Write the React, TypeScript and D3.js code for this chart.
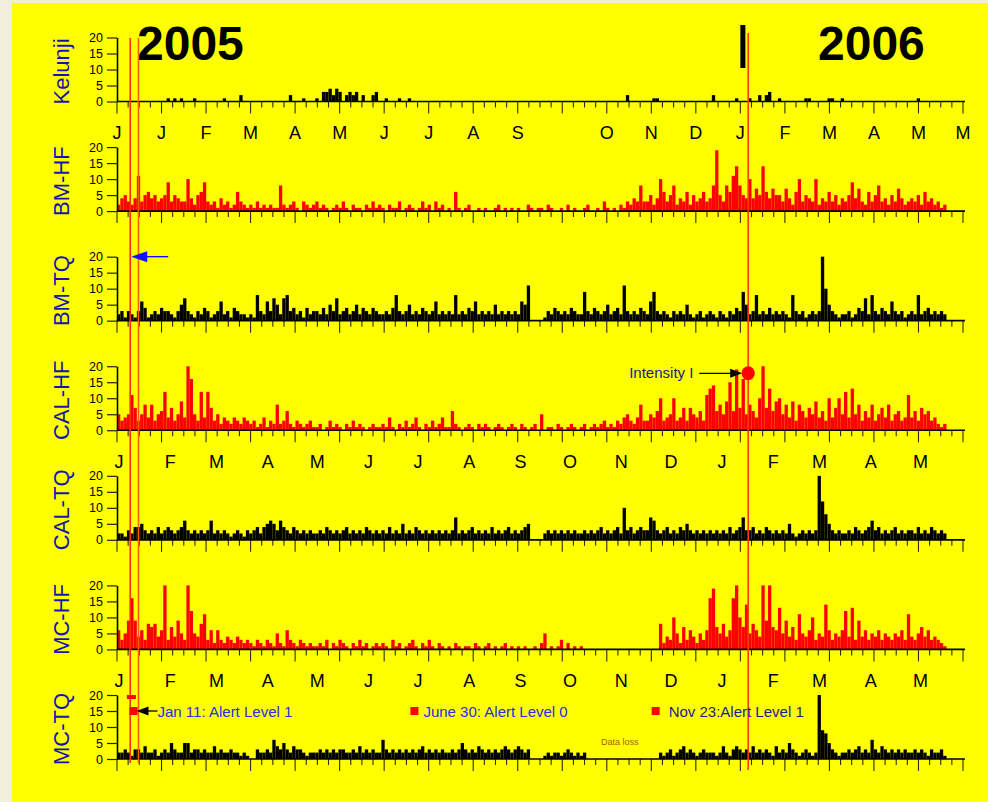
import React, { useEffect, useRef } from 'react';
import * as d3 from 'd3';

const W = 988;
const H = 802;

const stations = ['Kelunji', 'BM-HF', 'BM-TQ', 'CAL-HF', 'CAL-TQ', 'MC-HF', 'MC-TQ'];

// event counts, one value per 2 days starting 1 Jan 2005
const bmHF = [
  2, 4, 5, 3, 2, 4, 11, 3, 5, 6, 4, 5, 3, 4, 5, 9, 3, 5, 4, 3,
  3, 10, 4, 2, 5, 6, 9, 3, 2, 3, 1, 4, 2, 3, 1, 2, 6, 3, 2, 1,
  2, 1, 3, 1, 2, 1, 2, 1, 1, 8, 2, 1, 2, 3, 1, 0, 3, 2, 1, 2,
  3, 1, 2, 1, 0, 1, 2, 1, 3, 1, 0, 2, 1, 1, 0, 2, 1, 3, 1, 2,
  1, 0, 2, 1, 1, 3, 0, 1, 2, 1, 0, 1, 3, 1, 2, 0, 3, 1, 2, 0,
  1, 0, 6, 1, 0, 1, 2, 0, 0, 1, 0, 1, 0, 0, 1, 2, 0, 1, 0, 1,
  0, 1, 0, 0, 2, 1, 0, 1, 1, 0, 2, 1, 0, 0, 1, 0, 2, 0, 1, 0,
  0, 1, 2, 0, 0, 1, 0, 3, 1, 0, 1, 0, 2, 1, 3, 2, 4, 3, 8, 3,
  3, 5, 2, 4, 10, 6, 3, 5, 8, 2, 4, 3, 6, 2, 5, 3, 4, 6, 3, 4,
  8, 19, 5, 3, 8, 6, 11, 14, 8, 5, 4, 10, 4, 7, 5, 14, 6, 4, 7, 5,
  5, 3, 7, 4, 2, 6, 10, 3, 5, 4, 3, 10, 2, 4, 3, 6, 3, 5, 2, 4,
  3, 5, 9, 4, 7, 3, 2, 6, 3, 5, 8, 3, 4, 2, 5, 3, 7, 4, 2, 3,
  4, 3, 5, 2, 6, 3, 4, 2, 3, 1, 2,
];

const bmTQ = [
  2, 3, 1, 3, 2, 1, 3, 6, 4, 1, 2, 3, 2, 4, 3, 3, 2, 1, 3, 5,
  7, 3, 2, 1, 3, 2, 4, 3, 1, 2, 3, 6, 2, 3, 1, 4, 3, 2, 2, 1,
  2, 1, 8, 3, 2, 6, 3, 7, 5, 2, 7, 8, 3, 4, 2, 3, 1, 4, 2, 3,
  3, 2, 4, 2, 5, 3, 7, 2, 3, 4, 2, 3, 5, 2, 4, 3, 2, 4, 3, 2,
  2, 3, 2, 4, 8, 3, 2, 3, 5, 2, 3, 2, 4, 3, 2, 3, 6, 2, 3, 2,
  3, 2, 8, 2, 3, 2, 4, 3, 6, 2, 3, 2, 3, 2, 5, 2, 3, 2, 3, 2,
  3, 2, 6, 5, 11, 0, 0, 0, 0, 1, 3, 2, 4, 3, 2, 3, 2, 4, 3, 2,
  2, 9, 3, 2, 4, 3, 2, 3, 5, 2, 3, 4, 2, 11, 3, 2, 3, 2, 4, 3,
  2, 6, 9, 3, 2, 3, 2, 1, 3, 2, 3, 2, 5, 2, 1, 2, 3, 1, 2, 3,
  2, 1, 3, 2, 1, 3, 2, 4, 3, 9, 5, 2, 3, 8, 2, 3, 2, 4, 2, 3,
  2, 3, 2, 1, 8, 3, 2, 3, 1, 2, 3, 2, 3, 20, 10, 5, 3, 2, 1, 2,
  2, 3, 1, 2, 4, 3, 7, 2, 8, 3, 2, 4, 3, 2, 6, 3, 2, 3, 1, 2,
  3, 2, 8, 2, 3, 4, 2, 3, 2, 3, 2,
];

const calHF = [
  5, 3, 4, 5, 11, 7, 3, 5, 8, 4, 8, 3, 5, 6, 12, 4, 7, 3, 5, 9,
  4, 20, 16, 5, 3, 12, 4, 12, 7, 3, 5, 2, 4, 3, 2, 4, 3, 2, 4, 3,
  2, 3, 1, 2, 4, 1, 3, 2, 8, 2, 3, 6, 2, 1, 3, 2, 1, 2, 3, 1,
  1, 2, 0, 1, 3, 1, 2, 1, 0, 2, 1, 3, 1, 2, 1, 0, 1, 2, 1, 1,
  2, 1, 4, 1, 0, 2, 1, 3, 1, 2, 4, 1, 0, 2, 1, 3, 1, 2, 4, 1,
  1, 6, 2, 1, 0, 1, 2, 1, 0, 2, 1, 2, 1, 0, 1, 2, 1, 0, 1, 2,
  1, 0, 2, 1, 0, 1, 2, 0, 5, 0, 1, 1, 0, 2, 1, 0, 1, 2, 1, 0,
  1, 2, 0, 1, 2, 1, 2, 3, 1, 2, 1, 3, 2, 4, 5, 3, 2, 4, 8, 3,
  3, 5, 4, 6, 10, 3, 4, 5, 10, 3, 4, 7, 3, 7, 5, 4, 6, 3, 11, 13,
  14, 6, 8, 5, 9, 15, 6, 19, 7, 16, 5, 8, 6, 4, 10, 20, 7, 13, 6, 9,
  10, 5, 8, 4, 9, 3, 8, 6, 4, 7, 5, 9, 4, 6, 3, 10, 4, 7, 10, 5,
  12, 4, 13, 5, 8, 3, 6, 4, 8, 3, 5, 7, 4, 8, 3, 5, 6, 3, 4, 11,
  4, 6, 3, 7, 5, 6, 3, 4, 2, 1, 2,
];

const calTQ = [
  2, 2, 1, 3, 2, 4, 4, 5, 3, 2, 3, 2, 4, 2, 3, 4, 3, 2, 3, 4,
  6, 3, 2, 3, 2, 3, 2, 3, 6, 2, 3, 2, 3, 2, 1, 2, 3, 2, 1, 3,
  2, 3, 4, 2, 4, 5, 6, 5, 3, 6, 4, 3, 2, 4, 3, 2, 3, 2, 3, 2,
  2, 3, 2, 4, 3, 2, 3, 2, 3, 4, 2, 3, 2, 3, 2, 4, 3, 2, 3, 2,
  3, 2, 4, 2, 3, 2, 5, 2, 3, 2, 4, 3, 2, 3, 2, 3, 2, 3, 2, 3,
  2, 3, 7, 2, 3, 2, 3, 4, 2, 3, 2, 3, 2, 4, 2, 3, 2, 3, 4, 2,
  3, 2, 3, 4, 5, 0, 0, 0, 0, 2, 3, 2, 3, 2, 3, 2, 3, 2, 3, 2,
  2, 3, 2, 3, 2, 3, 4, 2, 3, 2, 3, 4, 2, 10, 3, 4, 2, 3, 4, 3,
  3, 7, 6, 3, 2, 3, 4, 2, 3, 2, 4, 3, 5, 3, 2, 3, 2, 3, 2, 3,
  2, 3, 2, 3, 2, 4, 2, 3, 4, 7, 3, 3, 4, 2, 3, 2, 4, 3, 2, 3,
  2, 3, 2, 5, 2, 1, 2, 3, 2, 3, 2, 3, 20, 12, 8, 5, 3, 2, 3, 2,
  2, 3, 2, 4, 3, 2, 3, 4, 6, 3, 4, 2, 3, 2, 3, 4, 2, 3, 2, 3,
  3, 2, 4, 2, 3, 2, 4, 3, 2, 3, 2,
];

const mcHF = [
  6, 3, 5, 9, 16, 9, 4, 6, 3, 8, 7, 8, 4, 6, 20, 3, 7, 4, 9, 5,
  3, 20, 12, 5, 4, 8, 11, 3, 6, 2, 6, 3, 2, 4, 3, 2, 4, 3, 2, 3,
  2, 1, 3, 2, 1, 3, 2, 1, 5, 2, 1, 6, 3, 2, 1, 3, 2, 1, 2, 1,
  1, 2, 1, 3, 0, 2, 1, 3, 2, 1, 0, 2, 1, 3, 1, 2, 0, 1, 2, 1,
  2, 1, 0, 3, 1, 2, 0, 1, 2, 3, 1, 0, 2, 1, 3, 1, 0, 2, 1, 0,
  1, 0, 2, 1, 0, 1, 1, 0, 2, 1, 0, 1, 2, 0, 1, 0, 1, 2, 0, 1,
  0, 1, 0, 1, 0, 0, 1, 0, 2, 5, 0, 1, 0, 1, 3, 0, 2, 0, 1, 0,
  1, 0, 0, 0, 0, 0, 0, 0, 0, 0, 0, 0, 0, 0, 0, 0, 0, 0, 0, 0,
  0, 0, 0, 0, 8, 2, 4, 3, 10, 5, 2, 7, 3, 6, 4, 2, 5, 3, 6, 16,
  19, 7, 5, 8, 4, 6, 16, 20, 10, 7, 14, 5, 8, 6, 4, 20, 9, 20, 7, 6,
  13, 5, 9, 4, 7, 3, 11, 5, 4, 6, 10, 3, 5, 4, 14, 6, 3, 5, 4, 6,
  12, 4, 13, 3, 9, 4, 6, 3, 5, 4, 6, 3, 5, 4, 3, 5, 4, 6, 3, 11,
  4, 3, 5, 7, 4, 6, 3, 4, 3, 2, 1,
];

const mcTQ = [
  2, 2, 3, 2, 1, 3, 3, 2, 4, 2, 2, 3, 1, 2, 3, 2, 5, 3, 2, 2,
  5, 5, 2, 3, 3, 2, 3, 2, 2, 4, 2, 3, 2, 2, 3, 2, 2, 1, 2, 1,
  0, 0, 3, 2, 2, 3, 2, 6, 4, 3, 5, 3, 2, 4, 3, 3, 2, 1, 2, 2,
  2, 3, 2, 3, 2, 3, 2, 3, 3, 2, 2, 3, 2, 4, 2, 3, 2, 3, 2, 2,
  6, 3, 2, 3, 2, 3, 2, 3, 2, 3, 2, 3, 4, 2, 3, 2, 3, 2, 3, 2,
  2, 3, 2, 3, 5, 3, 2, 3, 2, 4, 3, 2, 3, 2, 3, 2, 3, 4, 3, 2,
  3, 4, 3, 2, 3, 0, 0, 0, 0, 1, 2, 1, 2, 2, 1, 2, 3, 2, 1, 2,
  1, 2, 0, 0, 0, 0, 0, 0, 0, 0, 0, 0, 0, 0, 0, 0, 0, 0, 0, 0,
  0, 0, 0, 0, 2, 1, 2, 3, 1, 2, 3, 4, 2, 3, 2, 1, 2, 3, 2, 2,
  2, 1, 2, 4, 2, 1, 3, 4, 3, 2, 3, 2, 4, 2, 3, 2, 3, 2, 1, 4,
  2, 3, 2, 5, 3, 2, 1, 2, 3, 2, 1, 2, 20, 9, 8, 5, 3, 2, 1, 2,
  2, 3, 2, 3, 4, 2, 3, 2, 6, 3, 2, 4, 3, 2, 3, 2, 3, 2, 3, 2,
  2, 3, 2, 3, 2, 1, 3, 2, 2, 3, 1,
];

// Kelunji is sparse: 2-day bin index and count
const kelunjiBin = [15, 17, 19, 23, 32, 37, 52, 56, 60, 62, 63, 64, 65, 66, 67, 69, 70, 71, 72, 74, 77, 78, 81, 85, 88, 154, 162, 163, 180, 187, 191, 194, 196, 197, 200, 208, 209, 215, 216, 219, 242];
const kelunjiCount = [1, 1, 1, 1, 1, 2, 2, 1, 1, 3, 3, 4, 2, 4, 3, 2, 3, 2, 3, 2, 2, 3, 1, 1, 1, 2, 1, 1, 2, 1, 1, 2, 2, 3, 1, 1, 1, 1, 1, 1, 1];

const topMonths = ['J', 'J', 'F', 'M', 'A', 'M', 'J', 'J', 'A', 'S', '', 'O', 'N', 'D', 'J', 'F', 'M', 'A', 'M', 'M'];
const lowerMonths = ['J', 'F', 'M', 'A', 'M', 'J', 'J', 'A', 'S', 'O', 'N', 'D', 'J', 'F', 'M', 'A', 'M'];
const yTicks = [0, 5, 10, 15, 20];

const alerts = [
  { date: new Date(2005, 0, 11), text: 'Jan 11: Alert Level 1', color: '#2a2ae8' },
  { date: new Date(2005, 5, 30), text: 'June 30: Alert Level 0', color: '#2a2ae8' },
  { date: new Date(2005, 10, 23), text: 'Nov 23:Alert Level 1', color: '#1c1c8c' },
];
const redLines = [new Date(2005, 0, 9), new Date(2005, 0, 14), new Date(2006, 0, 18)];

const FONT = 'Arial, "Liberation Sans", Helvetica, sans-serif';

const App = () => {
  const svgRef = useRef<SVGSVGElement>(null);

  useEffect(() => {
    const svg = d3.select(svgRef.current);
    svg.selectAll('*').remove();

    // background
    svg.append('rect').attr('width', W).attr('height', H).attr('fill', '#f1efdb');
    svg.append('rect').attr('x', 12).attr('y', 3).attr('width', W - 12).attr('height', H - 3).attr('fill', '#ffff00');

    const start = new Date(2005, 0, 1);
    const x = d3.scaleTime().domain([start, new Date(2006, 4, 28)]).range([117, 963]);
    const tickX = d3.scaleLinear().domain([0, 19]).range([117, 963]);
    const row = d3.scaleLinear().domain([0, 6]).range([101.5, 759]);
    const binX = (i: number) => x(d3.timeDay.offset(start, i * 2));
    const bw = binX(1) - binX(0);

    const series = [
      { bins: kelunjiBin, vals: kelunjiCount, color: '#000' },
      { bins: bmHF.map((_, i) => i), vals: bmHF, color: '#ff0000' },
      { bins: bmTQ.map((_, i) => i), vals: bmTQ, color: '#000' },
      { bins: calHF.map((_, i) => i), vals: calHF, color: '#ff0000' },
      { bins: calTQ.map((_, i) => i), vals: calTQ, color: '#000' },
      { bins: mcHF.map((_, i) => i), vals: mcHF, color: '#ff0000' },
      { bins: mcTQ.map((_, i) => i), vals: mcTQ, color: '#000' },
    ];

    const yScales: d3.ScaleLinear<number, number>[] = [];

    series.forEach((s, p) => {
      const y0 = row(p);
      const y = d3.scaleLinear().domain([0, 20]).range([y0, y0 - 64]);
      yScales.push(y);
      const g = svg.append('g');

      const pts = s.vals.map((v, k) => ({ bin: s.bins[k], v })).filter((d) => d.v > 0);
      g.selectAll('rect')
        .data(pts)
        .enter()
        .append('rect')
        .attr('x', (d) => binX(d.bin))
        .attr('y', (d) => y(d.v))
        .attr('width', bw)
        .attr('height', (d) => y0 - y(d.v))
        .attr('fill', s.color);

      // x ticks (weekly minor, major every 4)
      const ticks = d3.range(0, 19 * 4 + 1).map((k) => k / 4);
      g.selectAll('line.tk')
        .data(ticks)
        .enter()
        .append('line')
        .attr('x1', (d) => tickX(d))
        .attr('x2', (d) => tickX(d))
        .attr('y1', y0)
        .attr('y2', (d) => y0 + (d % 1 === 0 ? 12 : 6))
        .attr('stroke', '#2e2e00')
        .attr('stroke-width', 1.1);

      g.append('line')
        .attr('x1', 117)
        .attr('x2', 965)
        .attr('y1', y0)
        .attr('y2', y0)
        .attr('stroke', '#000')
        .attr('stroke-width', 1.6);

      // y axis
      const ax = g
        .append('g')
        .attr('transform', 'translate(117,0)')
        .call(d3.axisLeft(y).tickValues(yTicks).tickSize(10).tickSizeOuter(0).tickPadding(4));
      ax.select('.domain').attr('stroke', '#000').attr('stroke-width', 1.6);
      ax.selectAll('.tick line').attr('stroke', '#222200').attr('stroke-width', 1.2);
      ax.selectAll('.tick text').attr('font-size', 12.5).attr('font-family', FONT).attr('fill', '#000');

      // station label
      g.append('text')
        .attr('transform', `translate(69,${y0 - 30}) rotate(-90)`)
        .attr('text-anchor', 'middle')
        .attr('font-family', FONT)
        .attr('font-size', 22)
        .attr('fill', '#1414b0')
        .text(stations[p]);
    });

    // month labels
    svg
      .append('g')
      .selectAll('text')
      .data(topMonths)
      .enter()
      .append('text')
      .attr('x', (_, k) => tickX(k))
      .attr('y', row(0) + 37)
      .attr('text-anchor', 'middle')
      .attr('font-family', FONT)
      .attr('font-size', 18)
      .text((d) => d);

    const months = d3.timeMonth.range(start, new Date(2006, 5, 1));
    [3, 5].forEach((p) => {
      svg
        .append('g')
        .selectAll('text')
        .data(lowerMonths)
        .enter()
        .append('text')
        .attr('x', (_, k) => x(months[k]) + 2)
        .attr('y', row(p) + 38)
        .attr('text-anchor', 'middle')
        .attr('font-family', FONT)
        .attr('font-size', 18)
        .text((d) => d);
    });

    // year titles
    svg.append('text').attr('x', 137).attr('y', 60).attr('font-family', FONT).attr('font-weight', 'bold').attr('font-size', 48).text('2005');
    svg.append('text').attr('x', 818).attr('y', 60).attr('font-family', FONT).attr('font-weight', 'bold').attr('font-size', 48).text('2006');
    svg.append('rect').attr('x', tickX(14)).attr('y', 25).attr('width', 5).attr('height', 43).attr('fill', '#000');

    // alert lines
    const lineColors = ['#ff2e00', '#ff5c00', '#ff3c00'];
    redLines.forEach((d, k) => {
      svg
        .append('line')
        .attr('x1', x(d))
        .attr('x2', x(d))
        .attr('y1', k === 2 ? 33 : 38)
        .attr('y2', k === 2 ? 770 : 763)
        .attr('stroke', lineColors[k])
        .attr('stroke-width', 1.6);
    });

    // blue arrow in BM-TQ
    const yb = yScales[2](20);
    const xa = x(redLines[0]) + 1;
    svg.append('line').attr('x1', xa + 10).attr('x2', x(new Date(2005, 1, 1))).attr('y1', yb).attr('y2', yb).attr('stroke', '#1010ff').attr('stroke-width', 1.4);
    svg.append('path').attr('d', `M${xa},${yb} L${xa + 16},${yb - 5.5} L${xa + 16},${yb + 5.5} Z`).attr('fill', '#1010ff');

    // Intensity I marker on CAL-HF
    const yi = yScales[3](17.8);
    const xi = x(redLines[2]);
    svg.append('ellipse').attr('cx', xi).attr('cy', yi).attr('rx', 6.5).attr('ry', 7).attr('fill', '#ff0000');
    svg.append('line').attr('x1', xi - 49).attr('x2', xi - 14).attr('y1', yi).attr('y2', yi).attr('stroke', '#000').attr('stroke-width', 1.3);
    svg.append('path').attr('d', `M${xi - 6},${yi} L${xi - 18},${yi - 4.5} L${xi - 18},${yi + 4.5} Z`).attr('fill', '#000');
    svg.append('text').attr('x', xi - 119).attr('y', yi + 5).attr('font-family', FONT).attr('font-size', 15).attr('fill', '#1a1a80').text('Intensity I');

    // alert level annotations in MC-TQ
    const ym = yScales[6];
    svg.append('rect').attr('x', x(new Date(2005, 0, 7))).attr('y', ym(20)).attr('width', 9).attr('height', 4).attr('fill', '#ff0000');
    alerts.forEach((a, k) => {
      const cx = x(a.date);
      svg.append('rect').attr('x', cx - 4).attr('y', ym(15) - 4).attr('width', 8).attr('height', 8).attr('fill', '#ff0000');
      let tx = cx + 9;
      if (k === 0) {
        svg.append('line').attr('x1', cx + 12).attr('x2', cx + 24).attr('y1', ym(15)).attr('y2', ym(15)).attr('stroke', '#000').attr('stroke-width', 1.3);
        svg.append('path').attr('d', `M${cx + 3},${ym(15)} L${cx + 15},${ym(15) - 4.5} L${cx + 15},${ym(15) + 4.5} Z`).attr('fill', '#000');
        tx = cx + 24;
      } else if (k === 2) {
        tx = cx + 13;
      }
      svg.append('text').attr('x', tx).attr('y', ym(15) + 5.5).attr('font-family', FONT).attr('font-size', 15).attr('fill', a.color).text(a.text);
    });

    svg.append('text').attr('x', 601).attr('y', 745).attr('font-family', FONT).attr('font-size', 9).attr('fill', '#a85c00').text('Data loss');
  }, []);

  return <svg ref={svgRef} width={W} height={H} style={{ position: 'absolute', left: 0, top: 0 }} />;
};

export default App;
